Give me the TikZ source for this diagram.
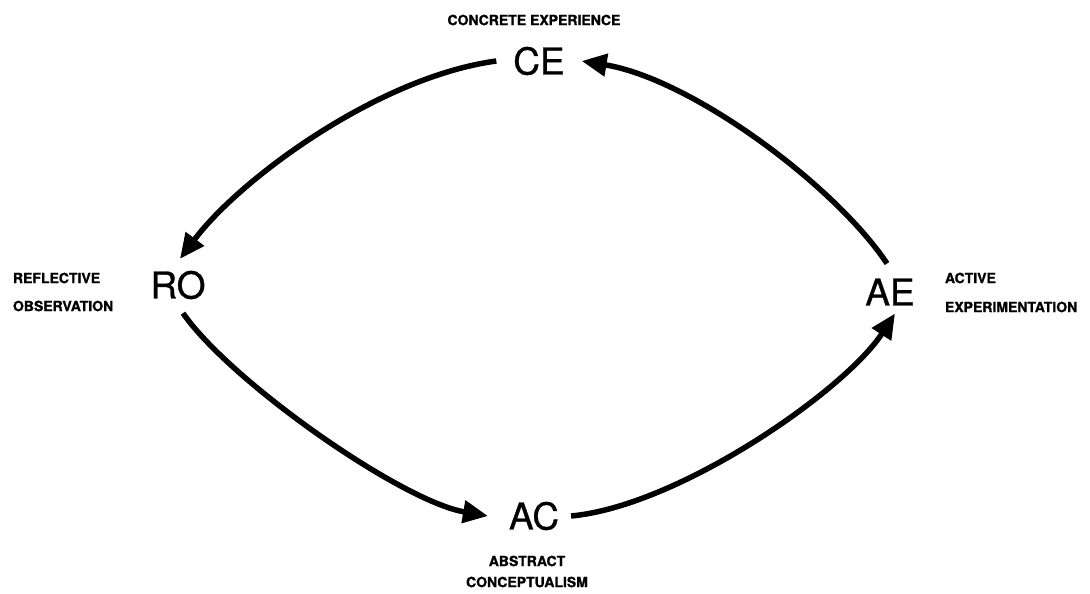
\documentclass[tikz,border=0pt]{standalone}
\usepackage{fontspec}
\setmainfont{TeX Gyre Heros}
\newfontfamily\heavyfont{texgyreheros-bold.otf}[FakeBold=1.2]
\newfontfamily\bigfont{texgyreheros-regular.otf}[FakeBold=0.8]
\usetikzlibrary{arrows.meta}
\begin{document}
\begin{tikzpicture}[x=1pt,y=-1pt,
  big/.style={inner sep=0pt,outer sep=0pt,font=\bigfont\fontsize{37}{40}\selectfont},
  small/.style={inner sep=0pt,outer sep=0pt,font=\heavyfont\fontsize{14}{16}\selectfont},
  flow/.style={line width=5.5pt,-{Triangle[length=25pt,width=22pt]}}]
\useasboundingbox (0,0) rectangle (1090,594);
% main nodes
\node[big] (CE) at (539,61) {CE};
\node[big] (RO) at (178,285) {RO};
\node[big] (AE) at (890,292) {AE};
\node[big] (AC) at (534,516) {AC};
% labels
\node[small] (CEl) at (534,20) {CONCRETE EXPERIENCE};
\node[small,anchor=west] (ROl1) at (13,278) {REFLECTIVE};
\node[small,anchor=west] (ROl2) at (13,306) {OBSERVATION};
\node[small,anchor=west] (AEl1) at (945,278) {ACTIVE};
\node[small,anchor=west] (AEl2) at (945,307) {EXPERIMENTATION};
\node[small] (ACl1) at (527,561) {ABSTRACT};
\node[small] (ACl2) at (527,582) {CONCEPTUALISM};
% connectors
\draw[flow] ([xshift=-17pt]CE.west) .. controls +(-118,16) and +(60,-80) .. ([xshift=2pt,yshift=12pt]RO.north);
\draw[flow] ([xshift=5pt,yshift=-14pt]RO.south) .. controls +(47,68) and +(-87,-15) .. ([xshift=-21pt]AC.west);
\draw[flow] ([xshift=12pt]AC.east) .. controls +(108,-10) and +(-50,77) .. ([xshift=5pt,yshift=-8pt]AE.south);
\draw[flow] ([xshift=-3pt,yshift=15pt]AE.north) .. controls +(-52,-78) and +(110,18) .. ([xshift=17pt]CE.east);
\end{tikzpicture}
\end{document}
